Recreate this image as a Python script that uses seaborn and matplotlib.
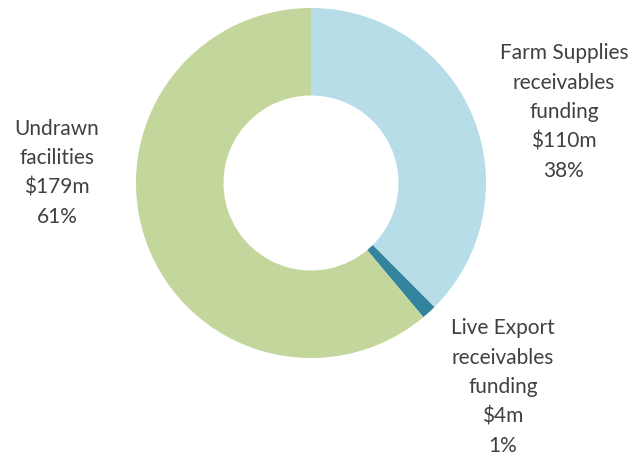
import matplotlib
matplotlib.use("Agg")
import matplotlib.pyplot as plt
import seaborn as sns

categories = ["Farm Supplies\nreceivables\nfunding", "Live Export\nreceivables\nfunding", "Undrawn\nfacilities"]
values = [110, 4, 179]
value_labels = ["$110m", "$4m", "$179m"]
pct_labels = ["38%", "1%", "61%"]
colors = ["#B7DDE8", "#31849B", "#C3D69B"]

sns.set_theme(style="white")
plt.rcParams['font.family'] = ['Lato', 'DejaVu Sans']

fig = plt.figure(figsize=(6.33, 4.57), dpi=100)
ax = fig.add_axes([136/633, 99/457, 350/633, 350/457])
ax.pie(values, colors=colors, startangle=90, counterclock=False,
       radius=1.0, wedgeprops=dict(width=0.5, linewidth=0))
ax.set_xlim(-1, 1)
ax.set_ylim(-1, 1)
ax.set_aspect("equal")
ax.axis("off")

label_pos = [(564, 112), (503, 387), (57, 173)]
for cat, v, p, (x, y) in zip(categories, value_labels, pct_labels, label_pos):
    fig.text(x/633, 1 - y/457, f"{cat}\n{v}\n{p}", ha="center", va="center",
             fontsize=15, color="#404040", linespacing=1.58)

fig.savefig("out.png", dpi=100, facecolor="white")
